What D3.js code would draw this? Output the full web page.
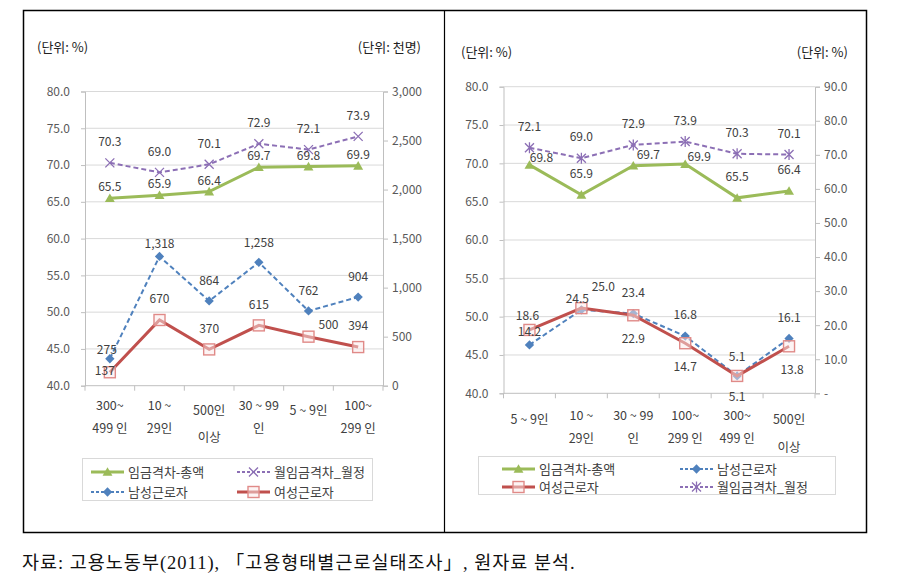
<!DOCTYPE html>
<html><head><meta charset="utf-8">
<script src="https://cdn.jsdelivr.net/npm/d3@7"></script>
<style>body{margin:0;background:#fff} svg{display:block}</style>
</head><body>
<svg id="c" width="901" height="588"></svg>
<script>
// ---------------- DATA ----------------
const seriesNames = ["임금격차-총액", "월임금격차_월정", "남성근로자", "여성근로자"];

const leftCategories = ["300~\n499 인", "10 ~\n29인", "500인\n이상", "30 ~ 99\n인", "5 ~ 9인", "100~\n299 인"];
const leftWageTotal   = [65.5, 65.9, 66.4, 69.7, 69.8, 69.9];
const leftWageMonthly = [70.3, 69.0, 70.1, 72.9, 72.1, 73.9];
const leftMale        = [275, 1318, 864, 1258, 762, 904];
const leftFemale      = [137, 670, 370, 615, 500, 394];
const leftTicksLeft   = [40, 45, 50, 55, 60, 65, 70, 75, 80];
const leftTicksRight  = [0, 500, 1000, 1500, 2000, 2500, 3000];

const rightCategories = ["5 ~ 9인", "10 ~\n29인", "30 ~ 99\n인", "100~\n299 인", "300~\n499 인", "500인\n이상"];
const rightWageTotal   = [69.8, 65.9, 69.7, 69.9, 65.5, 66.4];
const rightWageMonthly = [72.1, 69.0, 72.9, 73.9, 70.3, 70.1];
const rightMale        = [14.2, 24.5, 23.4, 16.8, 5.1, 16.1];
const rightFemale      = [18.6, 25.0, 22.9, 14.7, 5.1, 13.8];
const rightTicksLeft   = [40, 45, 50, 55, 60, 65, 70, 75, 80];
const rightTicksRight  = [0, 10, 20, 30, 40, 50, 60, 70, 80, 90];

const sourceNote = "자료: 고용노동부(2011), 「고용형태별근로실태조사」, 원자료 분석.";

// ---------------- STYLE ----------------
const COLORS = {green: "#9BBB59", purple: "#8C6FB5", blue: "#4F81BD", red: "#C0504D"};
const FONT = "'Noto Sans CJK KR','Noto Sans',sans-serif";
const TXT = "#404040";

const svg = d3.select("#c");
svg.append("rect").attr("x", 23.5).attr("y", 10.5).attr("width", 843).attr("height", 522)
  .attr("fill", "none").attr("stroke", "#000").attr("stroke-width", 1.5);
svg.append("line").attr("x1", 444.5).attr("x2", 444.5).attr("y1", 10.5).attr("y2", 532.5)
  .attr("stroke", "#000").attr("stroke-width", 1.2);

function marker(g, type, x, y, color) {
  if (type === "triangle") {
    g.append("path").attr("d", d3.symbol(d3.symbolTriangle2, 70)()).attr("transform", `translate(${x},${y+1})`)
      .attr("fill", color);
  } else if (type === "diamond") {
    g.append("path").attr("d", d3.symbol(d3.symbolDiamond2, 55)()).attr("transform", `translate(${x},${y})`)
      .attr("fill", color);
  } else if (type === "square") {
    g.append("rect").attr("x", x - 5.5).attr("y", y - 5.5).attr("width", 11).attr("height", 11)
      .attr("fill", "#fbe9e9").attr("fill-opacity", 0.5).attr("stroke", "#e08a88").attr("stroke-width", 1.4);
  } else if (type === "x" || type === "star") {
    const s = 4.5;
    g.append("path").attr("d", `M${x-s},${y-s}L${x+s},${y+s}M${x-s},${y+s}L${x+s},${y-s}` + (type === "star" ? `M${x},${y-s-1}L${x},${y+s+1}` : ""))
      .attr("stroke", color).attr("stroke-width", 1.3).attr("fill", "none");
  }
}

function drawPanel(cfg) {
  const g = svg.append("g");
  const x = d3.scaleBand().domain(cfg.categories).range([cfg.x0, cfg.x1]);
  const yL = d3.scaleLinear().domain([40, 80]).range([cfg.yBot, cfg.yTop]);
  const yR = d3.scaleLinear().domain(cfg.rightDomain).range([cfg.yBot, cfg.yTop]);
  const cx = c => x(c) + x.bandwidth() / 2;

  g.selectAll(".grid").data(cfg.ticksLeft.filter(t => t > 40)).join("line")
    .attr("x1", cfg.x0).attr("x2", cfg.x1).attr("y1", d => yL(d)).attr("y2", d => yL(d))
    .attr("stroke", "#d9d9d9").attr("stroke-width", 1);

  const axL = g.append("g").attr("transform", `translate(${cfg.x0},0)`)
    .call(d3.axisLeft(yL).tickValues(cfg.ticksLeft).tickFormat(d3.format(".1f")).tickSize(4).tickPadding(11));
  const axR = g.append("g").attr("transform", `translate(${cfg.x1},0)`)
    .call(d3.axisRight(yR).tickValues(cfg.ticksRight).tickFormat(cfg.rightFormat).tickSize(5).tickPadding(cfg.rightPad));
  const bounds = cfg.categories.map(c => x(c)).concat([cfg.x1]);
  g.append("line").attr("x1", cfg.x0).attr("x2", cfg.x1).attr("y1", cfg.yBot).attr("y2", cfg.yBot)
    .attr("stroke", "#bfbfbf");
  g.selectAll(".xt").data(bounds).join("line").attr("x1", d => d).attr("x2", d => d)
    .attr("y1", cfg.yBot).attr("y2", cfg.yBot + 5).attr("stroke", "#bfbfbf");
  [axL, axR].forEach(a => {
    a.selectAll(".domain").attr("stroke", "#bfbfbf");
    a.selectAll(".tick line").attr("stroke", "#bfbfbf");
    a.selectAll("text").attr("font-family", FONT).attr("font-size", 12).attr("fill", "#595959");
  });

  cfg.categories.forEach((c, i) => {
    const lines = c.split("\n");
    const ys = cfg.tickLineY(lines);
    lines.forEach((ln, j) => {
      g.append("text").attr("x", cx(c)).attr("y", cfg.yBot + ys[j]).attr("dy", "0.35em")
        .attr("text-anchor", "middle").attr("font-family", FONT).attr("font-size", 12.5).attr("fill", TXT)
        .text(ln);
    });
  });

  cfg.series.forEach(s => {
    const scale = s.axis === "L" ? yL : yR;
    const pts = s.values.map((v, i) => [cx(cfg.categories[i]), scale(v)]);
    g.append("path").attr("d", d3.line()(pts)).attr("fill", "none").attr("stroke", s.color)
      .attr("stroke-width", s.width).attr("stroke-dasharray", s.dash || null);
    pts.forEach(p => marker(g, s.marker, p[0], p[1], s.color));
  });
  cfg.series.forEach(s => {
    const scale = s.axis === "L" ? yL : yR;
    s.values.forEach((v, i) => {
      const n = (s.nudge && s.nudge[i]) || [0, s.dy];
      g.append("text").attr("x", cx(cfg.categories[i]) + n[0]).attr("y", scale(v) + n[1]).attr("dy", "0.35em")
        .attr("text-anchor", "middle").attr("font-family", FONT).attr("font-size", 12).attr("fill", TXT)
        .text(s.fmt(v));
    });
  });

  g.append("text").attr("x", cfg.unitL[0]).attr("y", cfg.unitL[1]).attr("font-family", FONT).attr("font-size", 13)
    .attr("fill", "#222").text("(단위: %)");
  g.append("text").attr("x", cfg.unitR[0]).attr("y", cfg.unitR[1]).attr("text-anchor", "end").attr("font-family", FONT)
    .attr("font-size", 13).attr("fill", "#222").text(cfg.unitRText);

  const L = cfg.legend;
  g.append("rect").attr("x", L.box[0] + 0.5).attr("y", L.box[1] + 0.5).attr("width", L.box[2]).attr("height", L.box[3])
    .attr("fill", "#fff").attr("stroke", "#d9d9d9");
  L.items.forEach(it => {
    const s = cfg.series.find(q => q.name === it.name);
    g.append("line").attr("x1", it.x).attr("x2", it.x + 33).attr("y1", it.y).attr("y2", it.y)
      .attr("stroke", s.color).attr("stroke-width", s.width).attr("stroke-dasharray", s.dash ? "3,2" : null);
    marker(g, s.marker, it.x + 16.5, it.y, s.color);
    g.append("text").attr("x", it.x + 37).attr("y", it.y).attr("dy", "0.35em").attr("font-family", FONT)
      .attr("font-size", 13).attr("fill", TXT).text(s.name);
  });
}

const f1 = d3.format(".1f");
const fc = d3.format(",");

drawPanel({
  categories: leftCategories, x0: 85, x1: 383, yTop: 91.5, yBot: 385.7,
  rightDomain: [0, 3000], ticksLeft: leftTicksLeft, ticksRight: leftTicksRight,
  rightFormat: d => fc(d), rightPad: 4,
  tickLineY: lines => lines[1] === "이상" ? [25.3, 52.3] : (lines.length === 1 ? [25.3] : [19.5, 42.5]),
  unitL: [37, 52], unitR: [421, 52], unitRText: "(단위: 천명)",
  series: [
    {name: seriesNames[0], values: leftWageTotal, axis: "L", color: COLORS.green, width: 3, marker: "triangle", dy: -11, fmt: f1},
    {name: seriesNames[1], values: leftWageMonthly, axis: "L", color: COLORS.purple, width: 2, dash: "5,3", marker: "x", dy: -21, fmt: f1},
    {name: seriesNames[2], values: leftMale, axis: "R", color: COLORS.blue, width: 2, dash: "5,3", marker: "diamond", dy: -20, fmt: fc,
      nudge: {0: [-3, -9], 1: [0, -13]}},
    {name: seriesNames[3], values: leftFemale, axis: "R", color: COLORS.red, width: 3, marker: "square", dy: -21, fmt: fc,
      nudge: {0: [-5, -1], 4: [20, -12]}}
  ],
  legend: {box: [82, 458, 290, 42], items: [
    {name: seriesNames[0], x: 91, y: 472}, {name: seriesNames[1], x: 237, y: 472},
    {name: seriesNames[2], x: 91, y: 492}, {name: seriesNames[3], x: 237, y: 492}]}
});

drawPanel({
  categories: rightCategories, x0: 503.5, x1: 815, yTop: 86.7, yBot: 393.3,
  rightDomain: [0, 90], ticksLeft: rightTicksLeft, ticksRight: rightTicksRight,
  rightFormat: d => d === 0 ? "-" : f1(d), rightPad: 4,
  tickLineY: lines => lines[1] === "이상" ? [26.7, 54.7] : (lines.length === 1 ? [26.7] : [22.5, 45.5]),
  unitL: [461, 57], unitR: [848, 57], unitRText: "(단위: %)",
  series: [
    {name: seriesNames[0], values: rightWageTotal, axis: "L", color: COLORS.green, width: 3, marker: "triangle", dy: -21, fmt: f1,
      nudge: {0: [12, -7], 2: [15, -11], 3: [14, -7]}},
    {name: seriesNames[1], values: rightWageMonthly, axis: "R", color: COLORS.purple, width: 2, dash: "5,3", marker: "star", dy: -21, fmt: f1},
    {name: seriesNames[2], values: rightMale, axis: "R", color: COLORS.blue, width: 2, dash: "5,3", marker: "diamond", dy: -21, fmt: f1,
      nudge: {0: [0, -13], 1: [-4, -11], 4: [0, -19]}},
    {name: seriesNames[3], values: rightFemale, axis: "R", color: COLORS.red, width: 3, marker: "square", dy: 24, fmt: f1,
      nudge: {0: [-2, -14], 1: [22, -21], 4: [0, 21], 5: [3, 24]}}
  ],
  legend: {box: [478, 456, 357, 38], items: [
    {name: seriesNames[0], x: 502, y: 469}, {name: seriesNames[2], x: 680, y: 469},
    {name: seriesNames[3], x: 502, y: 487}, {name: seriesNames[1], x: 680, y: 487}]}
});

svg.append("text").attr("x", 22).attr("y", 569).attr("font-family", "'Liberation Serif','Noto Sans CJK KR',serif")
  .attr("font-size", 18.5).attr("letter-spacing", 1).attr("fill", "#111").text(sourceNote);
</script>
</body></html>
